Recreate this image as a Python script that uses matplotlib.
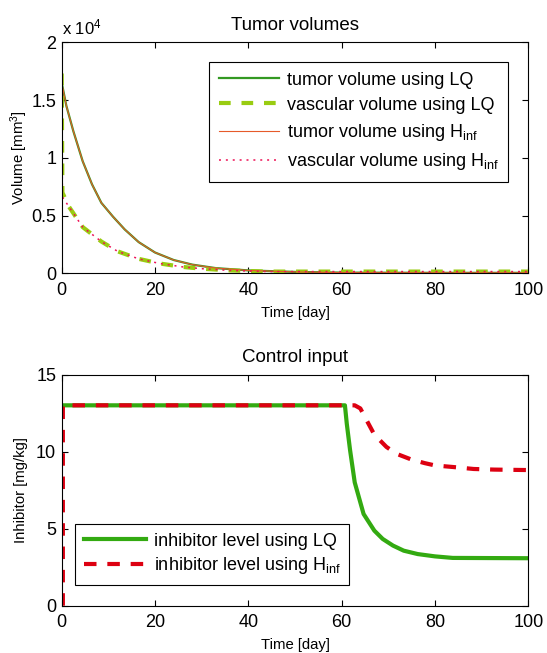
import matplotlib
matplotlib.use("Agg")
import matplotlib.pyplot as plt
import numpy as np

plt.rcParams['font.family'] = ['Liberation Sans', 'DejaVu Sans']
plt.rcParams['mathtext.fontset'] = 'custom'
plt.rcParams['mathtext.rm'] = 'Liberation Sans'
plt.rcParams['mathtext.it'] = 'Liberation Sans:italic'
plt.rcParams['mathtext.bf'] = 'Liberation Sans:bold'

# ---------------- data ----------------
# Tumor volumes [mm^3]
t_tumor = [0, 1, 2.5, 4.5, 6.5, 8.5, 11, 13.5, 16.5, 20, 24, 28, 33, 40, 50, 60, 80, 100]
tumor_lq = [16500, 14500, 12300, 9700, 7700, 6100, 4900, 3800, 2700, 1800, 1150, 750, 450,
            250, 120, 60, 40, 40]
tumor_hinf = [16500, 14500, 12300, 9700, 7700, 6100, 4900, 3800, 2700, 1800, 1150, 750, 450,
              250, 120, 60, 40, 40]

t_vasc = [0, 0.15, 1.5, 4.5, 8.5, 12, 16.5, 21, 26, 30, 36, 44, 60, 100]
vasc_lq = [17300, 7000, 5800, 4000, 2750, 1900, 1250, 850, 550, 400, 250, 150, 150, 150]
vasc_hinf = [17300, 6600, 5800, 4000, 2750, 1900, 1250, 850, 550, 400, 250, 150, 150, 150]

# Control input [mg/kg]
t_inh_lq = [0, 60.7, 61.1, 61.8, 62.8, 64.7, 67, 68.8, 71, 73.3, 76.3, 80, 83.8, 100]
inh_lq = [13, 13, 11.8, 10.1, 8.0, 5.95, 4.87, 4.33, 3.9, 3.57, 3.35, 3.2, 3.1, 3.08]

t_inh_hinf = [0.25, 0.25, 62.8, 64, 64.7, 67, 69.6, 71.8, 74.8, 77.8, 80, 83.8, 88.3, 92.7, 100]
inh_hinf = [0, 13, 13, 12.8, 12.4, 11.1, 10.3, 9.85, 9.5, 9.25, 9.1, 9.0, 8.87, 8.83, 8.8]

x_ticks = [0, 20, 40, 60, 80, 100]
vol_ticks = [0, 5000, 10000, 15000, 20000]
vol_tick_labels = ['0', '0.5', '1', '1.5', '2']
inh_ticks = [0, 5, 10, 15]

# ---------------- figure ----------------
fig = plt.figure(figsize=(5.47, 6.53), dpi=100)
W, H = 547, 653
def ax_rect(l, t, r, b):
    return [l / W, 1 - b / H, (r - l) / W, (b - t) / H]

ax1 = fig.add_axes(ax_rect(61.7, 42.3, 528.3, 273.3))
ax2 = fig.add_axes(ax_rect(61.7, 374.5, 528.3, 605.7))

tick_fs = 13
label_fs = 10.7
title_fs = 13.5
leg_fs = 13

for ax in (ax1, ax2):
    for s in ax.spines.values():
        s.set_color('black')
        s.set_linewidth(0.8)
    ax.tick_params(direction='in', top=True, right=True, length=4, width=0.8,
                   labelsize=tick_fs, colors='black')
    ax.tick_params(axis='x', pad=6)
    ax.tick_params(axis='y', pad=4)
    ax.set_xlim(0, 100)
    ax.set_xticks(x_ticks)

# top panel
ax1.plot(t_tumor, tumor_lq, color='#339922', lw=1.6, label='tumor volume using LQ')
ax1.plot(t_vasc, vasc_lq, color='#99cc11', lw=3.0, dashes=(2.8, 2.6),
         label='vascular volume using LQ')
ax1.plot(t_tumor, tumor_hinf, color='#e65a2a', lw=0.8, label='tumor volume using H$_{\\mathrm{inf}}$')
ax1.plot(t_vasc, vasc_hinf, color='#ee1155', lw=1.1, dashes=(1.3, 3.2),
         label='vascular volume using H$_{\\mathrm{inf}}$')
ax1.set_ylim(0, 20000)
ax1.set_yticks(vol_ticks)
ax1.set_yticklabels(vol_tick_labels)
ax1.set_title('Tumor volumes', fontsize=title_fs, pad=9)
ax1.set_xlabel('Time [day]', fontsize=label_fs, labelpad=5)
ax1.set_ylabel('Volume [mm$^3$]', fontsize=label_fs, labelpad=0.5)
ax1.text(0.0, 1.022, 'x 10$^4$', transform=ax1.transAxes, fontsize=12, ha='left', va='bottom')

leg1 = ax1.legend(loc='upper right', bbox_to_anchor=(0.957, 0.916), fontsize=leg_fs,
                  frameon=True, fancybox=False, edgecolor='black', framealpha=1,
                  borderaxespad=0, handlelength=3.35, handletextpad=0.4,
                  borderpad=0.55, labelspacing=0.45)
leg1.get_frame().set_linewidth(0.8)

# bottom panel
ax2.plot(t_inh_lq, inh_lq, color='#33aa11', lw=3.0, label='inhibitor level using LQ')
ax2.plot(t_inh_hinf, inh_hinf, color='#dd0011', lw=3.0, dashes=(3.0, 2.6),
         label='inhibitor level using H$_{\\mathrm{inf}}$')
ax2.set_ylim(0, 15)
ax2.set_yticks(inh_ticks)
ax2.set_title('Control input', fontsize=title_fs, pad=9)
ax2.set_xlabel('Time [day]', fontsize=label_fs, labelpad=5)
ax2.set_ylabel('Inhibitor [mg/kg]', fontsize=label_fs, labelpad=5.5)

leg2 = ax2.legend(loc='lower left', bbox_to_anchor=(0.0285, 0.0895), fontsize=leg_fs,
                  frameon=True, fancybox=False, edgecolor='black', framealpha=1,
                  borderaxespad=0, handlelength=3.45, handletextpad=0.4,
                  borderpad=0.5, labelspacing=0.3)
leg2.get_frame().set_linewidth(0.8)

fig.savefig('out.png', dpi=100)
